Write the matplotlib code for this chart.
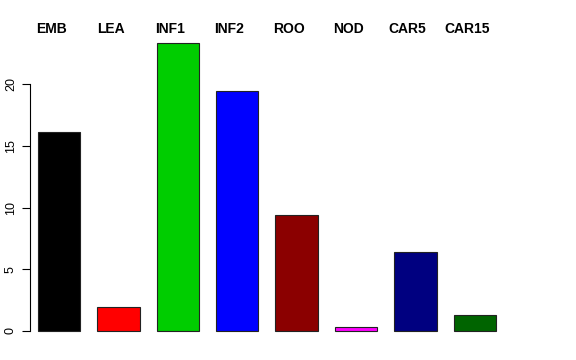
import numpy as np
import matplotlib
matplotlib.use("Agg")
import matplotlib.pyplot as plt
import matplotlib.transforms as mtransforms

# tissue labels, values and bar colours
tissues = ["EMB", "LEA", "INF1", "INF2", "ROO", "NOD", "CAR5", "CAR15"]
values = [16.15, 1.92, 23.35, 19.5, 9.38, 0.3, 6.43, 1.3]
colors = ["#000000", "#FF0000", "#00CD00", "#0000FF",
          "#8B0000", "#FF00FF", "#000080", "#006400"]
yticks = [0, 5, 10, 15, 20]

plt.rcParams["font.family"] = ["Liberation Sans", "DejaVu Sans"]

W, H = 576, 360
fig = plt.figure(figsize=(W / 100, H / 100), dpi=100)

# plot region in pixels (R barplot style)
left_px, right_px, top_px, bottom_px = 29.5, 520, 32, 342
ax = fig.add_axes([left_px / W, 1 - bottom_px / H,
                   (right_px - left_px) / W, (bottom_px - top_px) / H])

# R barplot: width 1, space 0.4
pitch = 1.4
x = 0.4 + pitch * np.arange(len(tissues))
ax.bar(x, values, width=1.0, align="edge", color=colors,
       edgecolor="#222222", linewidth=0.8)

px_per_unit = 42.4
x0 = 0.4 - (38 - left_px) / px_per_unit
ax.set_xlim(x0, x0 + (right_px - left_px) / px_per_unit)
ypx = 12.33
ax.set_ylim(-(bottom_px - 331) / ypx, (331 - top_px) / ypx)

for s in ["top", "right", "bottom"]:
    ax.spines[s].set_visible(False)
ax.spines["left"].set_bounds(0, 20)
ax.spines["left"].set_linewidth(0.8)
ax.set_xticks([])
ax.set_yticks(yticks)
ax.set_yticklabels([str(t) for t in yticks], rotation=90, va="center",
                   fontsize=9)
ax.tick_params(axis="y", length=6, width=0.8, pad=3)

# tissue names above the bars
trans = mtransforms.blended_transform_factory(ax.transData, fig.transFigure)
for xi, name in zip(x, tissues):
    ax.text(xi + 0.5 - 8 / px_per_unit, 1 - 29 / H, name, transform=trans,
            ha="center", va="center", fontsize=10, fontweight="bold")

fig.savefig("out.png", dpi=100)
